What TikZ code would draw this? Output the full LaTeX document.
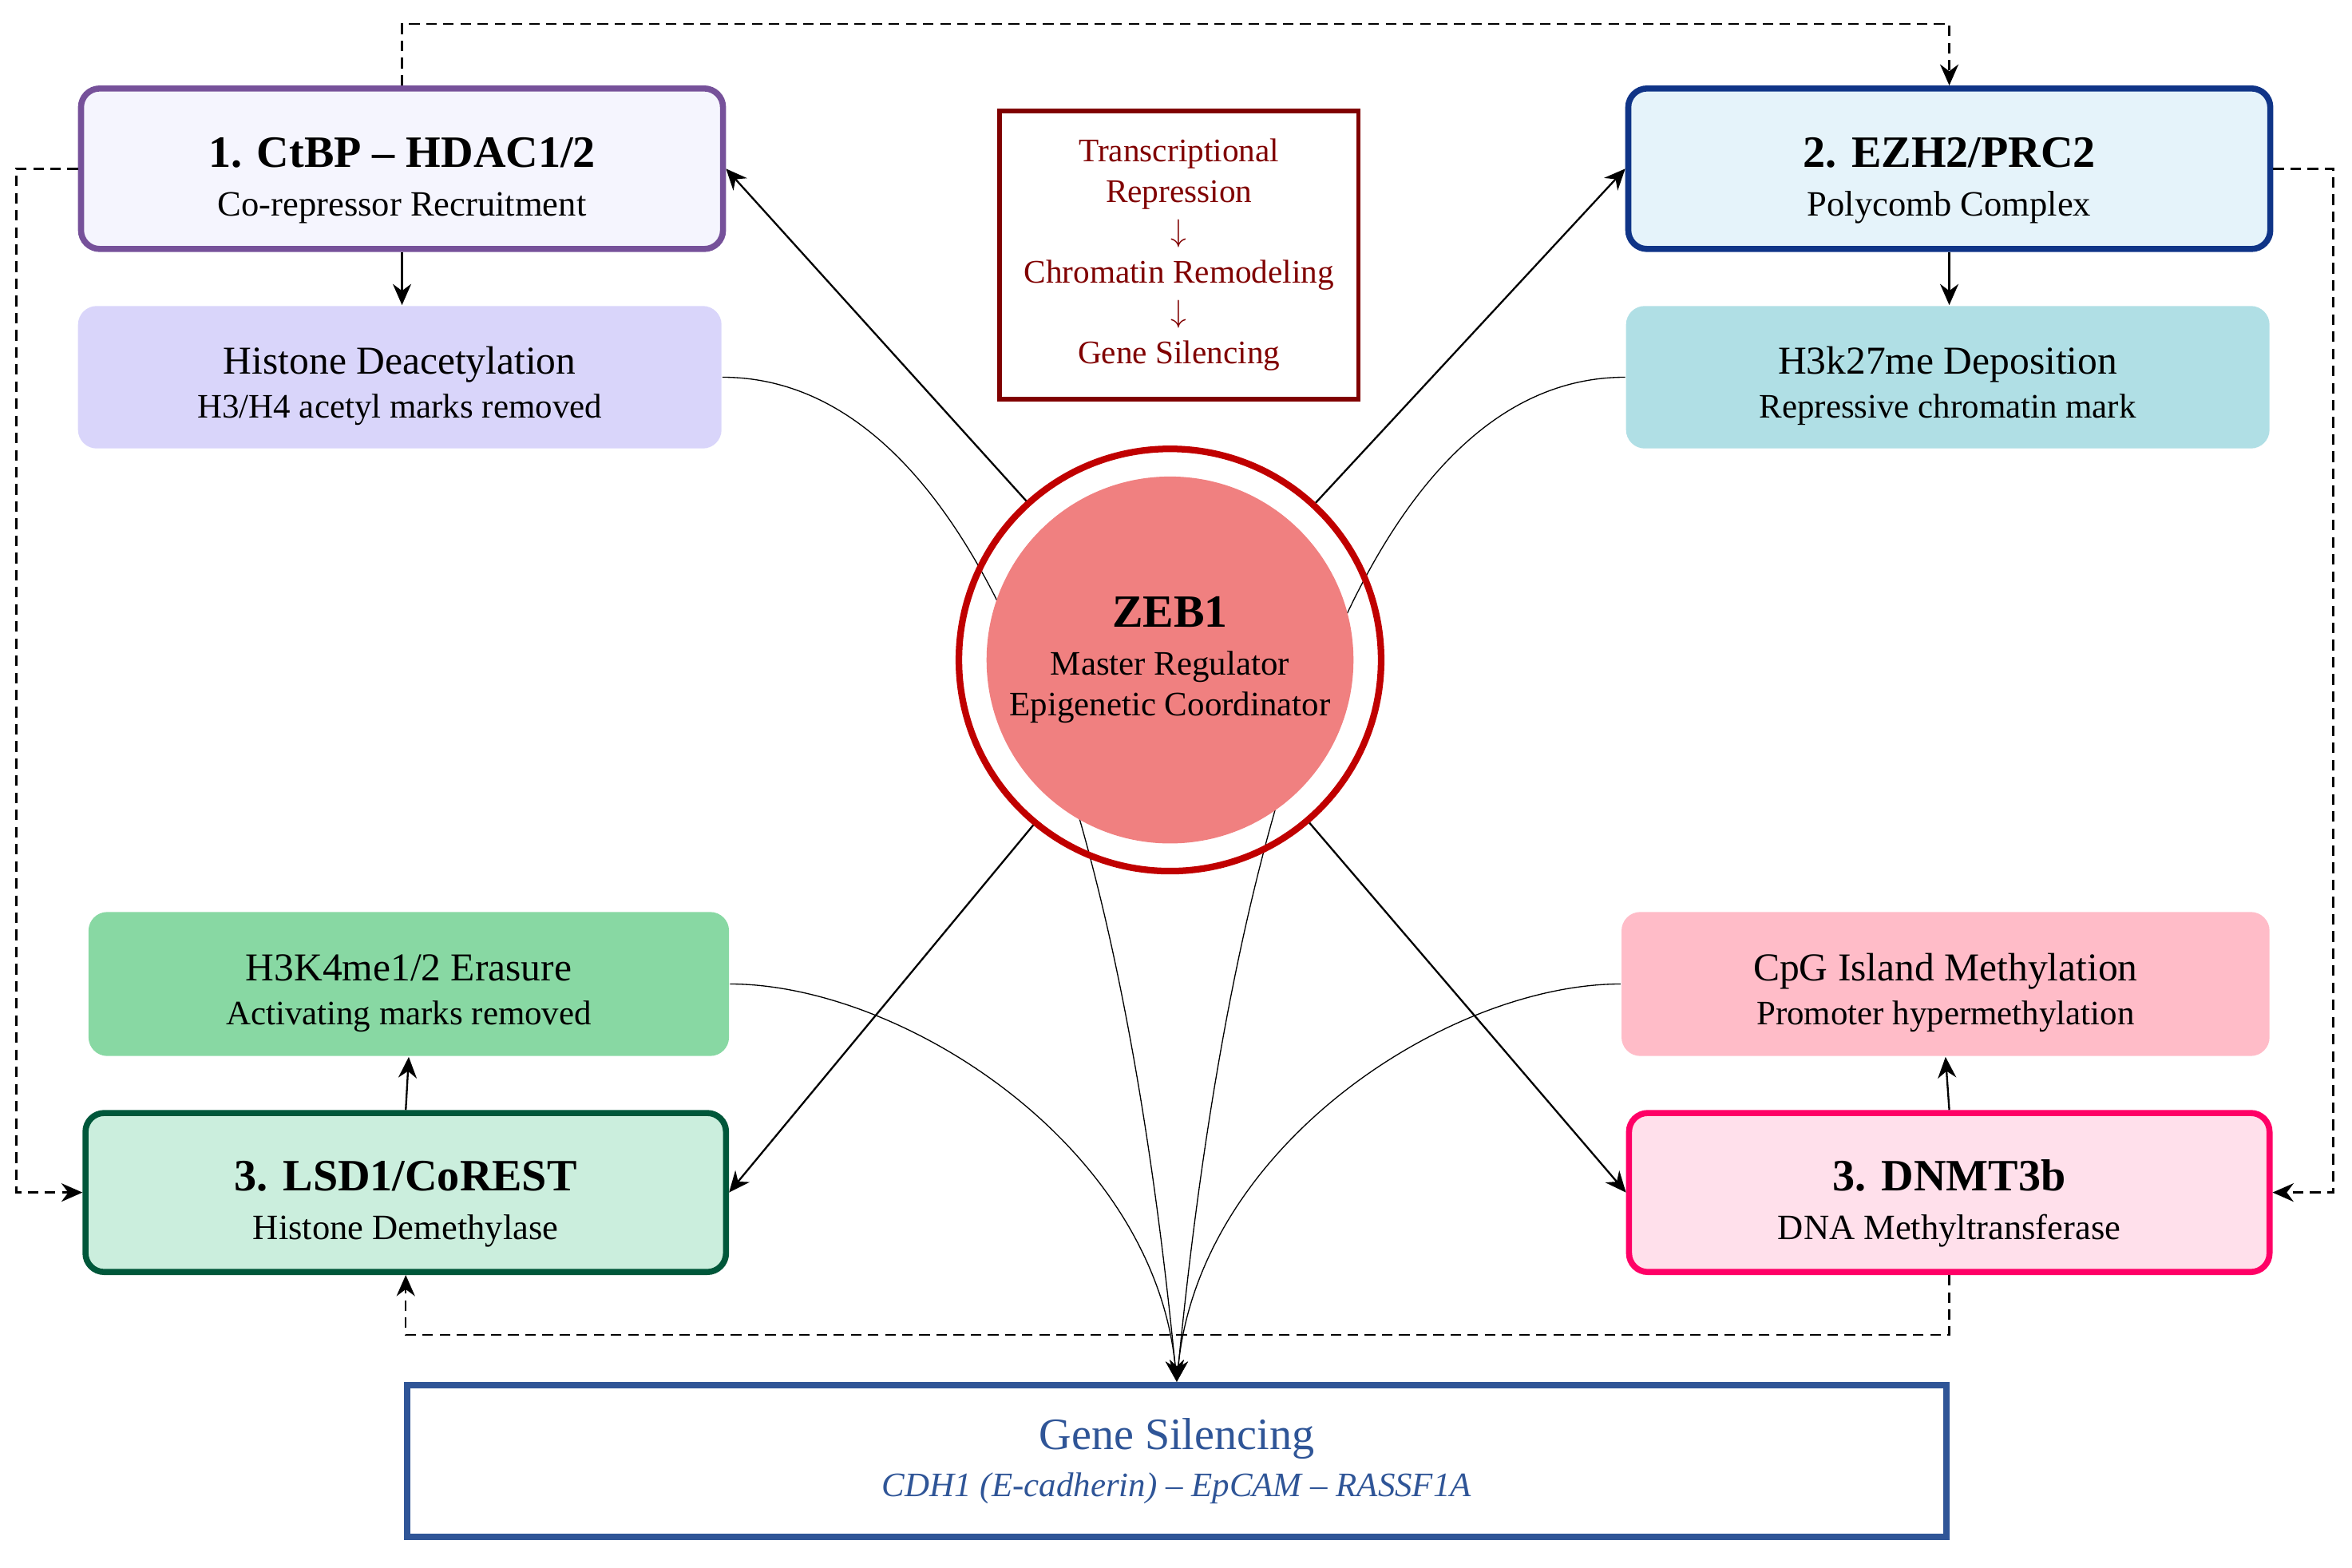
\documentclass[tikz,border=0pt]{standalone}
\usepackage{fontspec}
\setmainfont{Liberation Serif}
\usetikzlibrary{arrows.meta,backgrounds}

\definecolor{ctbpline}{HTML}{76519A}
\definecolor{ctbpfill}{HTML}{F5F5FE}
\definecolor{deacfill}{HTML}{D9D5FA}
\definecolor{ezhline}{HTML}{0F3487}
\definecolor{ezhfill}{HTML}{E5F3FA}
\definecolor{depofill}{HTML}{B0DFE5}
\definecolor{lsdline}{HTML}{00573A}
\definecolor{lsdfill}{HTML}{CBEEDD}
\definecolor{erasefill}{HTML}{88D8A3}
\definecolor{dnmtline}{HTML}{FF0066}
\definecolor{dnmtfill}{HTML}{FFE0EB}
\definecolor{cpgfill}{HTML}{FFBCC8}
\definecolor{zebring}{HTML}{C00000}
\definecolor{zebfill}{HTML}{F08080}
\definecolor{repress}{HTML}{800000}
\definecolor{silence}{HTML}{2F5597}

\newcommand{\enz}[2]{{\fontsize{17}{18.5}\selectfont\bfseries\rule{0pt}{20pt}#1}\\#2}
\newcommand{\eff}[2]{{\fontsize{15}{16.5}\selectfont\rule{0pt}{17pt}#1}\\#2}
\newcommand{\dn}{\raisebox{0.5pt}{$\downarrow$}}

\begin{document}
\begin{tikzpicture}[line width=0.7pt, >={Stealth[length=8pt,width=7pt]},
  enzyme/.style={draw, line width=2.3pt, rounded corners=0.25cm, minimum width=8.56cm,
    minimum height=2.14cm, align=center, font=\fontsize{13.5}{18.5}\selectfont},
  effect/.style={rounded corners=0.25cm, minimum width=8.58cm, minimum height=1.9cm,
    align=center, font=\fontsize{13}{16.5}\selectfont},
  dashflow/.style={->, line width=0.75pt, dash pattern=on 4pt off 2.5pt}]
  \useasboundingbox (0,0) rectangle (31.36,20.9);

  \node[enzyme, draw=ctbpline, fill=ctbpfill] (ctbp) at (5.36,18.65) {\enz{1. CtBP – HDAC1/2}{Co-repressor Recruitment}};
  \node[effect, fill=deacfill] (deac) at (5.33,15.87) {\eff{Histone Deacetylation}{H3/H4 acetyl marks removed}};
  \node[enzyme, draw=ezhline, fill=ezhfill] (ezh) at (25.99,18.65) {\enz{2. EZH2/PRC2}{Polycomb Complex}};
  \node[effect, fill=depofill] (depo) at (25.97,15.87) {\eff{H3k27me Deposition}{Repressive chromatin mark}};
  \node[effect, fill=erasefill, minimum width=8.54cm, minimum height=1.92cm] (erase) at (5.45,7.78) {\eff{H3K4me1/2 Erasure}{Activating marks removed}};
  \node[enzyme, draw=lsdline, fill=lsdfill, minimum width=8.54cm, minimum height=2.12cm] (lsd) at (5.41,5.0) {\enz{3. LSD1/CoREST}{Histone Demethylase}};
  \node[effect, fill=cpgfill, minimum width=8.64cm, minimum height=1.92cm] (cpg) at (25.94,7.78) {\eff{CpG Island Methylation}{Promoter hypermethylation}};
  \node[enzyme, draw=dnmtline, fill=dnmtfill, minimum width=8.54cm, minimum height=2.12cm] (dnmt) at (25.99,5.0) {\enz{3. DNMT3b}{DNA Methyltransferase}};

  \node[draw=repress, line width=1.7pt, minimum width=4.78cm, minimum height=3.84cm, align=center,
    text=repress, font=\fontsize{12.5}{15.3}\selectfont] (cascade) at (15.72,17.5)
    {Transcriptional\\Repression\\\dn\\Chromatin Remodeling\\\dn\\Gene Silencing};

  \node[circle, draw=zebring, line width=2.5pt, minimum size=5.63cm] (zeb) at (15.6,12.1) {};
  \node[circle, fill=zebfill, minimum size=4.5cm, align=center, font=\fontsize{13}{15.5}\selectfont] (zebcore) at (zeb)
    {{\fontsize{17.5}{19}\selectfont\bfseries ZEB1}\\[2.5pt]Master Regulator\\Epigenetic Coordinator};

  \node[draw=silence, line width=2.4pt, minimum width=20.53cm, minimum height=2.03cm, align=center,
    text=silence, font=\fontsize{13}{18}\selectfont] (gene) at (15.69,1.42)
    {{\fontsize{17}{18}\selectfont Gene Silencing}\\\textit{CDH1 (E-cadherin) – EpCAM – RASSF1A}};

  \draw[->] (ctbp.south) -- (ctbp.south |- deac.north);
  \draw[->] (ezh.south) -- (ezh.south |- depo.north);
  \draw[->] (lsd.north) -- (erase.south);
  \draw[->] (dnmt.north) -- (cpg.south);

  \draw[->] (zeb) -- (ctbp.east);
  \draw[->] (zeb) -- (ezh.west);
  \draw[->] (zeb) -- (lsd.east);
  \draw[->] (zeb) -- (dnmt.west);

  \begin{pgfonlayer}{background}
    \draw[->] (deac.east) .. controls +(2.78,0) and +(-0.94,9.56) .. (gene.north);
    \draw[->] (depo.west) .. controls +(-2.78,0) and +(0.94,9.56) .. (gene.north);
    \draw[->] (erase.east) .. controls +(2.28,0) and +(-0.3,3.16) .. (gene.north);
    \draw[->] (cpg.west) .. controls +(-2.28,0) and +(0.3,3.16) .. (gene.north);
  \end{pgfonlayer}

  \draw[dashflow] (ctbp.north) -- ++(0,0.82) -| (ezh.north);
  \draw[dashflow] (ezh.east) -- ++(0.8,0) |- (dnmt.east);
  \draw[dashflow] (dnmt.south) -- ++(0,-0.8) -| (lsd.south);
  \draw[dashflow] (ctbp.west) -- ++(-0.82,0) |- (lsd.west);
\end{tikzpicture}
\end{document}
